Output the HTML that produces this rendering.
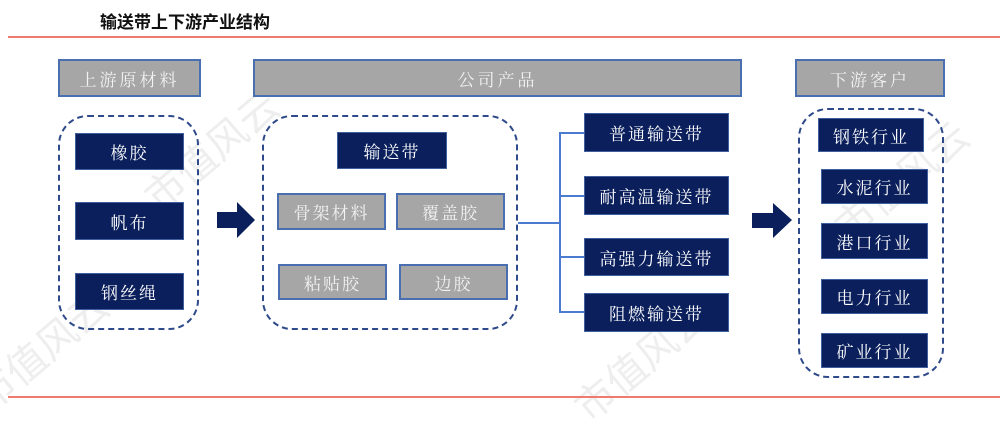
<!DOCTYPE html>
<html><head><meta charset="utf-8"><style>
body{margin:0;background:#fff;}
#c{position:relative;width:1008px;height:432px;overflow:hidden;font-family:"Liberation Serif","Noto Serif CJK SC",serif;}
.a{position:absolute;box-sizing:border-box;display:flex;align-items:center;justify-content:center;}
.n{background:#0a1f5c;color:#fff;border:1px solid #3f5f9e;font-size:17px;letter-spacing:2px;}
.g{background:#a6a6a6;color:#f2f2f2;border:2px solid #4a6fb0;font-size:17px;letter-spacing:3px;}
.gb{background:#a6a6a6;color:#f2f2f2;border:2px solid #4a6fb0;font-size:17px;letter-spacing:2px;}
.d{position:absolute;box-sizing:border-box;border:2px dashed #2f4a8a;border-radius:30px;}
.l{position:absolute;background:#4a7bd0;}
.w{position:absolute;color:#eeeeee;font-size:40px;transform:rotate(-40deg);font-family:"Noto Sans CJK SC",sans-serif;white-space:nowrap;}
</style></head><body><div id="c">
<div class="w" style="left:130px;top:120px">市值风云</div>
<div class="w" style="left:560px;top:330px">市值风云</div>
<div class="w" style="left:820px;top:150px">市值风云</div>
<div class="w" style="left:-40px;top:320px">市值风云</div>
<div style="position:absolute;left:100px;top:8px;font-size:17px;font-weight:bold;font-family:'Noto Sans CJK SC',sans-serif;color:#111">输送带上下游产业结构</div>
<div style="position:absolute;left:8px;top:36px;width:992px;height:2px;background:#ee7b6e"></div>
<div style="position:absolute;left:8px;top:396px;width:992px;height:2px;background:#ee7b6e"></div>

<div class="a g" style="left:58px;top:59px;width:143px;height:38px">上游原材料</div>
<div class="a g" style="left:253px;top:59px;width:489px;height:38px">公司产品</div>
<div class="a g" style="left:795px;top:59px;width:150px;height:38px">下游客户</div>

<div class="d" style="left:58px;top:115px;width:141px;height:215px"></div>
<div class="a n" style="left:75px;top:133px;width:109px;height:37px">橡胶</div>
<div class="a n" style="left:75px;top:202px;width:109px;height:38px">帆布</div>
<div class="a n" style="left:75px;top:273px;width:109px;height:37px">钢丝绳</div>

<svg style="position:absolute;left:217px;top:202px" width="40" height="36"><polygon points="0,10 20,10 20,0 38,18 20,36 20,26 0,26" fill="#0a1f5c"/></svg>
<svg style="position:absolute;left:752px;top:203px" width="42" height="36"><polygon points="0,10 21,10 21,0 40,17 21,35 21,25 0,25" fill="#0a1f5c"/></svg>

<div class="d" style="left:262px;top:115px;width:256px;height:215px"></div>
<div class="a n" style="left:337px;top:132px;width:110px;height:37px">输送带</div>
<div class="a gb" style="left:277px;top:193px;width:109px;height:37px">骨架材料</div>
<div class="a gb" style="left:396px;top:193px;width:109px;height:37px">覆盖胶</div>
<div class="a gb" style="left:278px;top:264px;width:109px;height:36px">粘贴胶</div>
<div class="a gb" style="left:399px;top:264px;width:109px;height:36px">边胶</div>

<div class="l" style="left:518px;top:222px;width:42px;height:2px"></div>
<div class="l" style="left:559px;top:132px;width:2px;height:181px"></div>
<div class="l" style="left:559px;top:132px;width:26px;height:2px"></div>
<div class="l" style="left:559px;top:195px;width:26px;height:2px"></div>
<div class="l" style="left:559px;top:256px;width:26px;height:2px"></div>
<div class="l" style="left:559px;top:311px;width:26px;height:2px"></div>
<div class="a n" style="left:584px;top:113px;width:145px;height:39px">普通输送带</div>
<div class="a n" style="left:584px;top:176px;width:145px;height:39px">耐高温输送带</div>
<div class="a n" style="left:584px;top:238px;width:145px;height:38px">高强力输送带</div>
<div class="a n" style="left:584px;top:293px;width:145px;height:39px">阻燃输送带</div>

<div class="d" style="left:798px;top:108px;width:146px;height:270px"></div>
<div class="a n" style="left:818px;top:118px;width:106px;height:34px">钢铁行业</div>
<div class="a n" style="left:821px;top:169px;width:107px;height:35px">水泥行业</div>
<div class="a n" style="left:821px;top:223px;width:107px;height:36px">港口行业</div>
<div class="a n" style="left:821px;top:279px;width:107px;height:35px">电力行业</div>
<div class="a n" style="left:821px;top:333px;width:107px;height:35px">矿业行业</div>
</div></body></html>
